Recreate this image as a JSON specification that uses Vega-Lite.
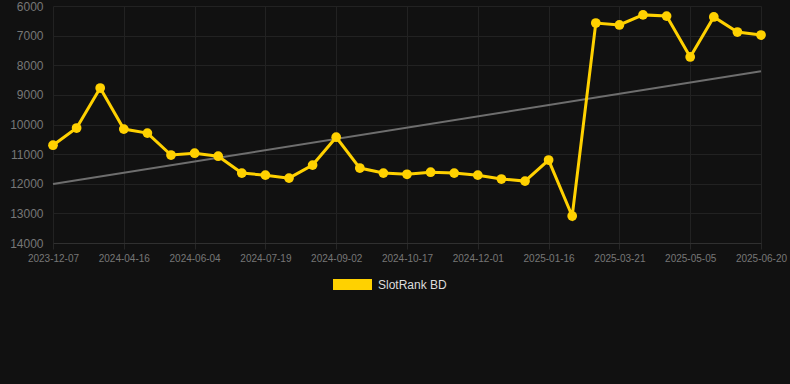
{
  "$schema": "https://vega.github.io/schema/vega-lite/v6.json",
  "width": 708,
  "height": 237,
  "autosize": {"type": "none"},
  "padding": {"left": 53, "top": 6, "right": 29, "bottom": 141},
  "background": "#111111",
  "config": {
    "view": {"stroke": null},
    "font": "Liberation Sans"
  },
  "datasets": {
    "rank": [
      {"date": "2023-12-07", "rank": 10700},
      {"date": "2024-01-20", "rank": 10120},
      {"date": "2024-03-03", "rank": 8770},
      {"date": "2024-04-16", "rank": 10155},
      {"date": "2024-05-01", "rank": 10290},
      {"date": "2024-05-16", "rank": 11030},
      {"date": "2024-06-04", "rank": 10970},
      {"date": "2024-06-19", "rank": 11070},
      {"date": "2024-07-04", "rank": 11640},
      {"date": "2024-07-19", "rank": 11710},
      {"date": "2024-08-03", "rank": 11810},
      {"date": "2024-08-18", "rank": 11370},
      {"date": "2024-09-02", "rank": 10430},
      {"date": "2024-09-17", "rank": 11470},
      {"date": "2024-10-02", "rank": 11640},
      {"date": "2024-10-17", "rank": 11680},
      {"date": "2024-11-01", "rank": 11610},
      {"date": "2024-11-16", "rank": 11640},
      {"date": "2024-12-01", "rank": 11710},
      {"date": "2024-12-16", "rank": 11840},
      {"date": "2024-12-31", "rank": 11910},
      {"date": "2025-01-16", "rank": 11200},
      {"date": "2025-02-05", "rank": 13090},
      {"date": "2025-03-01", "rank": 6575},
      {"date": "2025-03-21", "rank": 6640},
      {"date": "2025-04-05", "rank": 6300},
      {"date": "2025-04-20", "rank": 6340},
      {"date": "2025-05-05", "rank": 7720},
      {"date": "2025-05-20", "rank": 6370},
      {"date": "2025-06-05", "rank": 6880},
      {"date": "2025-06-20", "rank": 6980}
    ],
    "trend": [
      {"date": "2023-12-07", "rank": 12010},
      {"date": "2025-06-20", "rank": 8200}
    ]
  },
  "encoding": {
    "x": {
      "field": "date",
      "type": "ordinal",
      "scale": {"type": "point", "padding": 0},
      "axis": {
        "title": null,
        "values": ["2023-12-07", "2024-04-16", "2024-06-04", "2024-07-19", "2024-09-02", "2024-10-17", "2024-12-01", "2025-01-16", "2025-03-21", "2025-05-05", "2025-06-20"],
        "labelAngle": 0,
        "labelColor": "#777777",
        "labelFontSize": 10,
        "labelPadding": 4,
        "tickColor": "#262626",
        "tickSize": 6,
        "domainColor": "#303030",
        "grid": true,
        "gridColor": "#222222"
      }
    },
    "y": {
      "field": "rank",
      "type": "quantitative",
      "scale": {"domain": [6000, 14000], "reverse": true, "nice": false, "zero": false},
      "axis": {
        "title": null,
        "format": "d",
        "values": [6000, 7000, 8000, 9000, 10000, 11000, 12000, 13000, 14000],
        "labelColor": "#777777",
        "labelFontSize": 12,
        "labelPadding": 10,
        "ticks": false,
        "domain": false,
        "grid": true,
        "gridColor": "#222222"
      }
    }
  },
  "layer": [
    {
      "data": {"name": "trend"},
      "mark": {"type": "line", "color": "#6e6e6e", "strokeWidth": 2},
      "encoding": {}
    },
    {
      "data": {"name": "rank"},
      "mark": {"type": "line", "color": "#ffd100", "strokeWidth": 3},
      "encoding": {}
    },
    {
      "data": {"name": "rank"},
      "mark": {"type": "point", "filled": true, "opacity": 1, "size": 95},
      "encoding": {
        "color": {
          "datum": "SlotRank BD",
          "scale": {"range": ["#ffd100"]},
          "legend": {
            "title": null,
            "orient": "none",
            "legendX": 280,
            "legendY": 259,
            "symbolType": "M-1,-0.282H1V0.282H-1Z",
            "symbolSize": 1521,
            "symbolStrokeWidth": 0,
            "symbolOpacity": 1,
            "labelColor": "#dddddd",
            "labelFontSize": 12,
            "labelOffset": 6
          }
        }
      }
    }
  ]
}
